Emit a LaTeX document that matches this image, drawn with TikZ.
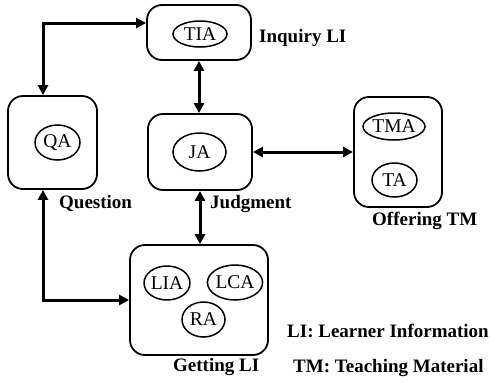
\documentclass[tikz,border=0pt]{standalone}
\usepackage{fontspec}
\setmainfont{Liberation Serif}
\usetikzlibrary{shapes.geometric,arrows.meta}
\begin{document}
\begin{tikzpicture}[x=1pt,y=-1pt,
  every node/.style={font=\fontsize{19.5}{22}\selectfont},
  agentbox/.style={draw,rounded corners=15pt,line width=1.8pt,inner sep=0pt},
  agent/.style={draw,ellipse,line width=1.5pt,inner sep=0pt},
  tag/.style={font=\fontsize{19}{22}\selectfont\bfseries,anchor=base west,inner sep=0pt},
  bi/.style={line width=3pt,{Triangle[length=10pt,width=10pt]}-{Triangle[length=10pt,width=10pt]}}]
\useasboundingbox (0,0) rectangle (493,383);

% activity boxes
\node[agentbox,minimum width=104pt,minimum height=55pt] (tiabox) at (199,32.5) {};
\node[agentbox,minimum width=89pt,minimum height=93pt] (qabox) at (52.5,142.5) {};
\node[agentbox,minimum width=104pt,minimum height=76pt] (jabox) at (200,152) {};
\node[agentbox,minimum width=88pt,minimum height=110pt] (tmbox) at (398,152) {};
\node[agentbox,minimum width=138pt,minimum height=110pt] (libox) at (199,300) {};

% agents
\node[agent,minimum width=54pt,minimum height=26pt] (tia) at (200,34) {TIA};
\node[agent,minimum width=45pt,minimum height=35pt] (qa) at (57.5,142.5) {QA};
\node[agent,minimum width=53pt,minimum height=38pt] (ja) at (199.5,152) {JA};
\node[agent,minimum width=62pt,minimum height=27pt] (tma) at (394,126.5) {TMA};
\node[agent,minimum width=45pt,minimum height=34pt] (ta) at (394.5,180) {TA};
\node[agent,minimum width=41pt,minimum height=34pt] (lia) at (167,283) {LIA};
\node[agent,minimum width=54pt,minimum height=35pt] (lca) at (235,282.5) {LCA};
\node[agent,minimum width=43pt,minimum height=35pt] (ra) at (203.5,319.5) {RA};

% labels
\node[tag] (linq) at (259,42) {Inquiry LI};
\node[tag] (lq) at (59,208) {Question};
\node[tag] (lj) at (210,208) {Judgment};
\node[tag] (lo) at (372,225) {Offering TM};
\node[tag] (lg) at (173,371) {Getting LI};
\node[tag] (lli) at (287,337) {LI: Learner Information};
\node[tag] (ltm) at (293,372) {TM: Teaching Material};

% connectors
\draw[bi] ([yshift=9.5pt]tiabox.west) -| ([xshift=-9.5pt]qabox.north);
\draw[bi] (tiabox.south) -- (tiabox.south |- jabox.north);
\draw[bi] (jabox.east) -- (jabox.east -| tmbox.west);
\draw[bi] (jabox.south) -- (jabox.south |- libox.north);
\draw[bi] ([xshift=-9.5pt]qabox.south) |- (libox.west);
\end{tikzpicture}
\end{document}
